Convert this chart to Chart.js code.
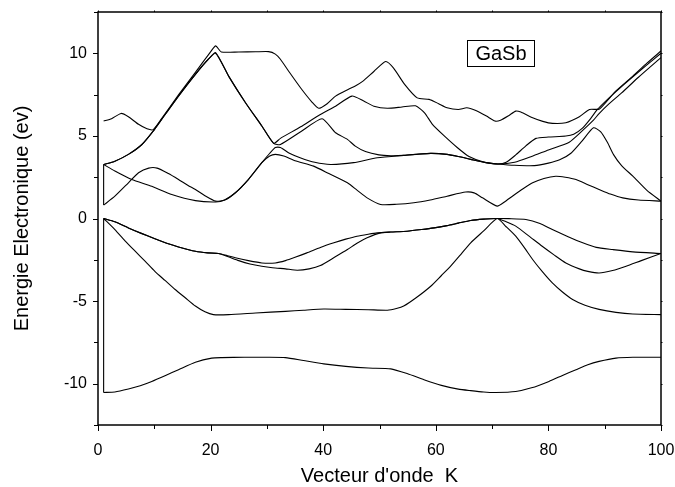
<!DOCTYPE html>
<html>
<head>
<meta charset="utf-8">
<script src="https://cdn.jsdelivr.net/npm/chart.js@4"></script>
<style>
  html, body { margin: 0; padding: 0; background: #fff; }
  #wrap { width: 675px; height: 487px; }
</style>
</head>
<body>
<div id="wrap"><canvas id="bands" width="675" height="487"></canvas></div>
<script>
// GaSb band structure: energy (eV) against the wave-vector path index K.
// Each line is a visual branch as [K, E] pairs.

const xTicks = [0, 20, 40, 60, 80, 100];
const yTicks = [-10, -5, 0, 5, 10];

// valence bands
const vbLow = [[1,-10.53],[3,-10.5],[5.4,-10.32],[7.5,-10.12],[9.55,-9.86],[12,-9.5],[14.3,-9.15],[17.3,-8.7],[20.2,-8.45],[22,-8.42],[26,-8.4],[30,-8.4],[33.3,-8.42],[36.5,-8.6],[40.1,-8.8],[44,-8.95],[48,-9.05],[52,-9.1],[55,-9.4],[57.9,-9.76],[61,-10.1],[64,-10.33],[66.2,-10.42],[68.5,-10.5],[70.6,-10.53],[74.2,-10.47],[77,-10.25],[80.1,-9.86],[82.5,-9.5],[84.9,-9.15],[87,-8.85],[89,-8.65],[92,-8.45],[95,-8.4],[100,-8.4]];
const vbMid = [[1,0],[3,-0.67],[4.8,-1.35],[6.6,-1.98],[8.4,-2.6],[10.1,-3.2],[11.9,-3.75],[13.7,-4.3],[15.5,-4.8],[17.3,-5.3],[19,-5.65],[20.5,-5.82],[23.2,-5.82],[28,-5.72],[33.3,-5.62],[36.5,-5.55],[40.1,-5.48],[44,-5.5],[48,-5.52],[51.4,-5.55],[53,-5.45],[54.3,-5.3],[56.5,-4.8],[59.1,-4.1],[61,-3.45],[62.6,-2.9],[64.5,-2.15],[66.2,-1.47],[68.5,-0.75],[70.9,0],[72.5,-0.5],[74.2,-1.07],[75.7,-1.75],[77.2,-2.48],[79,-3.25],[80.7,-3.9],[82.5,-4.45],[84.3,-4.9],[86.5,-5.25],[89,-5.5],[92,-5.68],[95,-5.78],[100,-5.82]];
const vbTopA = [[1,0],[3,-0.2],[5.4,-0.57],[7.7,-0.9],[10.1,-1.23],[12.2,-1.5],[14.3,-1.72],[17.3,-1.98],[19.5,-2.08],[21.4,-2.12],[23,-2.25],[24.4,-2.38],[26.7,-2.55],[29.1,-2.69],[31.5,-2.69],[33.3,-2.55],[35,-2.35],[37.1,-2.08],[39.5,-1.75],[41.9,-1.47],[44,-1.25],[46,-1.07],[48,-0.95],[49.6,-0.87],[52,-0.82],[54.9,-0.77],[57.5,-0.67],[59.7,-0.57],[62,-0.43],[64,-0.28],[66.2,-0.12],[68.5,-0.04],[70.9,0],[73,-0.01],[76,-0.06],[78.5,-0.3],[80.7,-0.67],[83.5,-1.1],[86.1,-1.47],[88.5,-1.75],[91.4,-1.88],[95,-2.02],[100,-2.12]];
const vbTopB = [[1,0],[3,-0.2],[5.4,-0.57],[7.7,-0.9],[10.1,-1.23],[12.2,-1.5],[14.3,-1.72],[17.3,-1.98],[19.5,-2.08],[21.4,-2.12],[23,-2.3],[25,-2.55],[27,-2.75],[29.1,-2.89],[31,-2.98],[33.3,-3.05],[35.4,-3.13],[37.5,-3.05],[39.5,-2.85],[42,-2.35],[44.3,-1.88],[46,-1.5],[47.8,-1.17],[50.2,-0.87],[52,-0.82],[54.9,-0.77],[57.5,-0.67],[59.7,-0.57],[62,-0.43],[64,-0.28],[66.2,-0.12],[68.5,-0.04],[70.9,0],[72.5,-0.2],[74.2,-0.46],[76.5,-1.05],[78.9,-1.68],[81,-2.2],[83.1,-2.69],[85.5,-3.05],[87,-3.2],[89,-3.3],[91.4,-3.15],[93.8,-2.89],[96.5,-2.55],[100,-2.12]];

// conduction bands
const cbLowA = [[1,0.81],[3,1.35],[5.4,2.16],[7.2,2.77],[9,3.05],[10.5,3.05],[12.5,2.72],[14.3,2.36],[16,2.0],[17.3,1.76],[19,1.38],[20.9,1.05],[22.5,1.12],[24.4,1.56],[26.7,2.36],[29.1,3.38],[30.5,3.95],[31.5,4.3],[32.4,4.3],[34,3.95],[35.9,3.68],[38.5,3.4],[41.3,3.27],[45.4,3.38],[49.6,3.68],[54.3,3.82],[59.1,3.94],[62,3.88],[64,3.75],[66.2,3.58],[68.9,3.38],[71,3.3],[74,3.22],[77.5,3.2],[80,3.35],[82,3.55],[84,3.95],[86,4.7],[88,5.49],[89.3,5.25],[90.5,4.6],[91.6,3.85],[93,3.2],[95,2.56],[97.5,1.7],[100,1.05]];
const cbLowB = [[1,3.27],[3,2.87],[6,2.36],[9.55,1.95],[13.1,1.45],[17.3,1.08],[20.9,1.0],[22.5,1.12],[24.4,1.56],[26.7,2.36],[29.1,3.38],[30.5,3.78],[31.5,3.88],[33,3.78],[35,3.5],[38.3,3.17],[41,2.72],[44.3,2.16],[46,1.72],[47.8,1.25],[50.2,0.85],[53,0.86],[56.1,0.95],[59,1.12],[62,1.35],[65.3,1.6],[66.8,1.55],[68.3,1.25],[70.9,0.75],[72.2,1.0],[73.6,1.35],[75.5,1.8],[77.2,2.16],[79.2,2.42],[81.3,2.56],[83,2.5],[84.9,2.36],[87,2.05],[89,1.76],[91,1.48],[93.2,1.25],[96,1.12],[100,1.05]];
const cbMidA = [[1,3.27],[3,3.47],[5.4,3.88],[7.8,4.48],[9.8,5.29],[11.3,6.0],[14.3,7.41],[17.3,8.73],[19.6,9.64],[20.9,10.04],[23.2,8.62],[26.2,7.01],[29.1,5.6],[31.2,4.55],[32.4,4.85],[36,5.55],[39.2,6.24],[42.2,6.8],[45.1,7.41],[47.2,7.11],[49,6.8],[51.4,6.67],[54,6.75],[56.4,6.82],[58,6.4],[59.4,5.7],[61.5,5.0],[63.8,4.3],[65.9,3.75],[68.5,3.42],[71,3.3],[72.5,3.4],[74.2,3.85],[76,4.4],[77.8,4.85],[80,4.93],[83.1,4.99],[84.5,5.1],[86,5.45],[87.5,6.05],[88.7,6.6],[90,7.05],[92,7.68],[95,8.58],[97.5,9.3],[100,10.0]];
const cbMidB = [[1,3.27],[3,3.47],[5.4,3.88],[7.8,4.48],[9.8,5.29],[11.3,6.0],[14.3,7.41],[17.3,8.73],[19.6,9.64],[20.9,10.0],[23.2,8.62],[26.2,7.01],[29.1,5.6],[31.2,4.55],[32.4,4.48],[36,5.25],[39.8,6.04],[42.2,5.19],[44.3,4.79],[45.7,4.38],[47.5,4.05],[49.9,3.85],[52,3.8],[54.3,3.82],[57,3.9],[59.1,3.94],[62,3.88],[64,3.75],[66.2,3.58],[68.9,3.38],[71,3.3],[74,3.4],[77,3.75],[80,4.15],[83.7,4.62],[86,5.3],[88,5.95],[89,6.35],[90.8,6.95],[93,7.6],[96,8.55],[100,9.74]];
const cbTop = [[1,5.9],[2.4,6.04],[4.1,6.36],[5.4,6.16],[7.2,5.7],[8.7,5.43],[9.8,5.38],[11.3,6.05],[14.3,7.48],[17.3,8.85],[19.6,9.9],[20.9,10.45],[21.9,10.08],[25,10.08],[28,10.09],[30.3,10.1],[31.5,9.95],[32.4,9.64],[34,8.85],[36,7.9],[38,7.05],[39.2,6.67],[40.7,6.95],[42.2,7.41],[44.5,7.82],[45.7,8.02],[47,8.3],[49,8.9],[51.1,9.5],[52.5,9.1],[54.5,8.1],[56.7,7.3],[58.8,7.21],[60.5,6.95],[62,6.7],[64,6.6],[65.5,6.7],[67,6.55],[69,6.2],[70.5,5.9],[71.5,5.95],[73,6.24],[74.2,6.5],[75.1,6.44],[77.2,6.1],[79,5.88],[80.7,5.76],[83.1,5.8],[85.5,6.16],[87.3,6.6],[89,6.62],[90.5,7.15],[92,7.72],[95,8.62],[97.5,9.4],[100,10.14]];

// the vertical joins drawn at the start of the path
const edgeValence = [[1,-10.53],[1,0]];
const edgeConduction = [[1,0.81],[1,3.27]];

const branches = [vbLow, vbMid, vbTopA, vbTopB, cbLowA, cbLowB, cbMidA, cbMidB, cbTop];

const FONT = "'Liberation Sans', Arial, sans-serif";

function line(points, tension) {
  return {
    data: points.map(([x, y]) => ({ x, y })),
    showLine: true,
    borderColor: '#000',
    borderWidth: 1.1,
    pointRadius: 0,
    tension: tension,
    fill: false
  };
}

// box frame, Origin-style tick marks and the "GaSb" label box
const framePlugin = {
  id: 'frame',
  afterDraw(chart) {
    const { ctx, chartArea: a, scales: { x, y } } = chart;
    ctx.save();
    ctx.strokeStyle = '#000';
    ctx.lineWidth = 1.5;
    ctx.strokeRect(a.left, a.top, a.right - a.left, a.bottom - a.top);

    ctx.lineWidth = 1;
    ctx.beginPath();
    for (let k = 0; k <= 100; k += 10) {
      const px = Math.round(x.getPixelForValue(k)) + 0.5;
      const len = k % 20 === 0 ? 6 : 4;
      ctx.moveTo(px, a.bottom); ctx.lineTo(px, a.bottom + len);
      ctx.moveTo(px, a.top); ctx.lineTo(px, a.top - 1.5);
    }
    for (let e = -12.5; e <= 12.5; e += 2.5) {
      const py = Math.round(y.getPixelForValue(e)) + 0.5;
      const len = e % 5 === 0 ? 5 : 4;
      ctx.moveTo(a.left, py); ctx.lineTo(a.left - len, py);
      ctx.moveTo(a.right, py); ctx.lineTo(a.right + 1.5, py);
    }
    ctx.stroke();

    // label box
    const bx0 = Math.round(x.getPixelForValue(65.6)) + 0.5;
    const bx1 = Math.round(x.getPixelForValue(77.5)) + 0.5;
    const by0 = Math.round(y.getPixelForValue(10.8)) + 0.5;
    const by1 = Math.round(y.getPixelForValue(9.25)) + 0.5;
    ctx.fillStyle = '#fff';
    ctx.fillRect(bx0, by0, bx1 - bx0, by1 - by0);
    ctx.strokeRect(bx0, by0, bx1 - bx0, by1 - by0);
    ctx.fillStyle = '#000';
    ctx.font = '20px ' + FONT;
    ctx.textAlign = 'center';
    ctx.textBaseline = 'middle';
    ctx.fillText('GaSb', (bx0 + bx1) / 2, (by0 + by1) / 2 + 1);
    ctx.restore();
  }
};

new Chart(document.getElementById('bands'), {
  type: 'scatter',
  data: {
    datasets: branches.map((b) => line(b, 0.2))
      .concat([line(edgeValence, 0), line(edgeConduction, 0)])
  },
  options: {
    responsive: false,
    animation: false,
    events: [],
    layout: { padding: { top: 12, right: 14, left: 0, bottom: 0 } },
    plugins: { legend: { display: false }, tooltip: { enabled: false } },
    scales: {
      x: {
        type: 'linear',
        min: 0,
        max: 100,
        afterBuildTicks: (s) => { s.ticks = xTicks.map((v) => ({ value: v })); },
        afterFit: (s) => { s.height = 62; s.paddingLeft = 0; s.paddingRight = 0; },
        grid: { display: false, drawTicks: false },
        border: { display: false },
        ticks: { color: '#000', padding: 16, maxRotation: 0, font: { family: FONT, size: 16 } },
        title: {
          display: true,
          text: "Vecteur d'onde  K",
          color: '#000',
          font: { family: FONT, size: 20, lineHeight: 1.05 },
          padding: { top: 0, bottom: 0 }
        }
      },
      y: {
        type: 'linear',
        min: -12.5,
        max: 12.5,
        afterBuildTicks: (s) => { s.ticks = yTicks.map((v) => ({ value: v })); },
        afterFit: (s) => { s.width = 98; s.paddingTop = 0; s.paddingBottom = 0; },
        grid: { display: false, drawTicks: false },
        border: { display: false },
        ticks: { color: '#000', padding: 11, font: { family: FONT, size: 16 } },
        title: {
          display: true,
          text: 'Energie Electronique (ev)',
          color: '#000',
          font: { family: FONT, size: 20 },
          padding: { top: 10, bottom: 0 }
        }
      }
    }
  },
  plugins: [framePlugin]
});
</script>
</body>
</html>
